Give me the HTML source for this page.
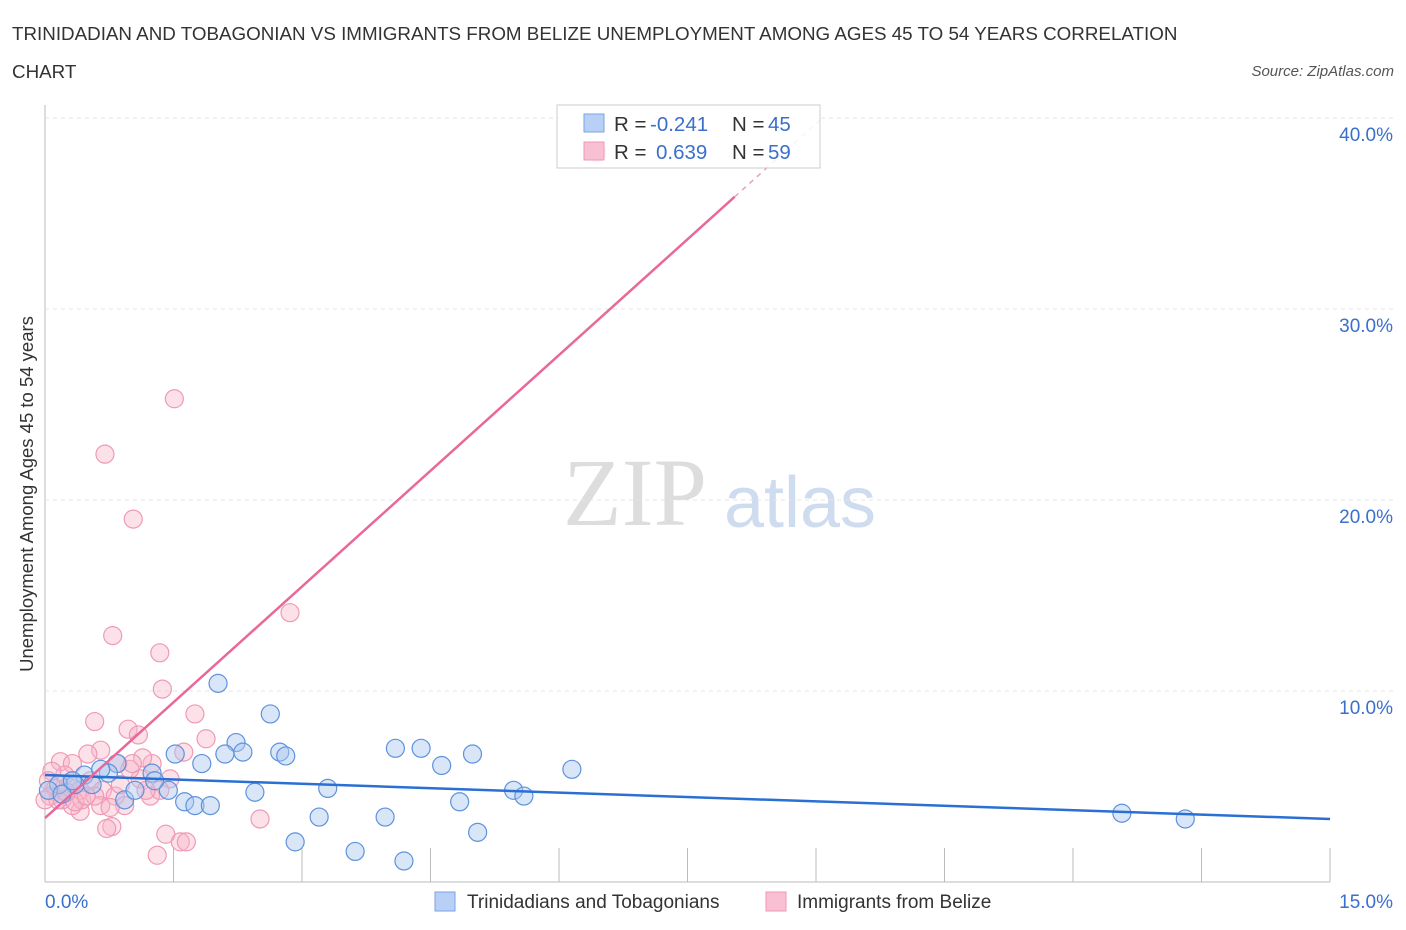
<!DOCTYPE html>
<html><head><meta charset="utf-8"><style>
body{margin:0;background:#fff;font-family:"Liberation Sans",sans-serif}
#c{position:absolute;left:0;top:0}
</style></head><body>
<svg id="c" width="1406" height="930" xmlns="http://www.w3.org/2000/svg">
<text x="12" y="40" font-size="18.8" fill="#333">TRINIDADIAN AND TOBAGONIAN VS IMMIGRANTS FROM BELIZE UNEMPLOYMENT AMONG AGES 45 TO 54 YEARS CORRELATION</text>
<text x="12" y="78" font-size="18.8" fill="#333">CHART</text>
<text x="1394" y="76" font-size="15" fill="#555" font-style="italic" text-anchor="end">Source: ZipAtlas.com</text>
<text x="33" y="494" font-size="18.5" fill="#333" text-anchor="middle" transform="rotate(-90 33 494)">Unemployment Among Ages 45 to 54 years</text>
<g><text x="635" y="525" font-size="96" fill="#ddd" font-family="Liberation Serif" text-anchor="middle">ZIP</text><text x="800" y="527" font-size="72" fill="#cfdcef" text-anchor="middle">atlas</text></g>
<g id="grid"></g><g id="pts"></g><g id="lines"></g>
<g>
<rect x="557" y="105" width="263" height="63" fill="#fff" fill-opacity="0.85" stroke="#ccc"/>
<rect x="584" y="114" width="20" height="18" fill="#b8d0f5" stroke="#7aa3e6"/>
<rect x="584" y="142" width="20" height="18" fill="#f8c0d2" stroke="#ee97b4"/>
<text x="614" y="131" font-size="20.5" fill="#333">R =</text><text x="650" y="131" font-size="20.5" fill="#3a6fcc">-0.241</text>
<text x="732" y="131" font-size="20.5" fill="#333">N =</text><text x="768" y="131" font-size="20.5" fill="#3a6fcc">45</text>
<text x="614" y="159" font-size="20.5" fill="#333">R =</text><text x="656" y="159" font-size="20.5" fill="#3a6fcc">0.639</text>
<text x="732" y="159" font-size="20.5" fill="#333">N =</text><text x="768" y="159" font-size="20.5" fill="#3a6fcc">59</text>
</g>
<g>
<rect x="435" y="892" width="20" height="19" fill="#b8d0f5" stroke="#7aa3e6"/>
<text x="467" y="908" font-size="19" fill="#333">Trinidadians and Tobagonians</text>
<rect x="766" y="892" width="20" height="19" fill="#f8c0d2" stroke="#ee97b4"/>
<text x="797" y="908" font-size="19" fill="#333">Immigrants from Belize</text>
</g>
</svg>
<script>
const yTicks=[10,20,30,40];
const xEnds=["0.0%","15.0%"];
const blueData=[[2.02,10.4],[2.63,8.8],[2.23,7.3],[2.1,6.7],[2.31,6.8],[2.74,6.8],[2.81,6.6],[1.52,6.7],[1.83,6.2],[4.09,7.0],[4.39,7.0],[4.99,6.7],[4.63,6.1],[6.15,5.9],[1.25,5.7],[0.84,6.2],[0.74,5.7],[0.46,5.6],[0.16,5.1],[0.35,5.1],[3.3,4.9],[2.45,4.7],[1.63,4.2],[1.75,4.0],[1.93,4.0],[0.93,4.3],[1.05,4.8],[1.44,4.8],[4.84,4.2],[5.47,4.8],[5.59,4.5],[3.2,3.4],[3.97,3.4],[5.05,2.6],[2.92,2.1],[3.62,1.6],[4.19,1.1],[12.57,3.6],[13.31,3.3],[0.04,4.8],[0.2,4.6],[0.55,5.1],[0.65,5.9],[1.28,5.3],[0.32,5.3]];
const pinkData=[[1.51,25.3],[0.7,22.4],[1.03,19.0],[2.86,14.1],[0.79,12.9],[1.34,12.0],[1.37,10.1],[1.75,8.8],[0.58,8.4],[0.97,8.0],[1.09,7.7],[1.88,7.5],[1.62,6.8],[0.65,6.9],[0.5,6.7],[0.18,6.3],[0.32,6.2],[0.85,6.2],[1.25,6.2],[1.14,6.5],[1.46,5.4],[1.11,5.4],[0.23,5.6],[0.08,5.8],[0.04,5.3],[0.12,4.9],[0.27,5.0],[0.41,4.8],[0.53,5.3],[0.67,4.8],[0.82,4.5],[0.93,4.0],[1.23,4.5],[1.34,4.8],[0.65,4.0],[0.41,3.7],[0.32,4.0],[0.43,4.3],[0.2,4.3],[0.78,2.9],[0.72,2.8],[1.41,2.5],[1.58,2.1],[1.65,2.1],[1.31,1.4],[2.51,3.3],[0.88,5.1],[0.99,5.9],[0.58,4.5],[0.06,4.5],[0.15,4.3],[0.0,4.3],[0.35,4.2],[0.25,4.7],[0.76,3.9],[1.02,6.2],[1.18,4.8],[6.44,38.2],[0.48,4.5]];
const blueFit=[5.6,3.3];
const pinkFit=[3.35,4.04];
const NS="http://www.w3.org/2000/svg";
const X=v=>45+v*85.67, Y=v=>882-v*19.1;
function mk(t,a,p){const e=document.createElementNS(NS,t);for(const k in a)e.setAttribute(k,a[k]);p.appendChild(e);return e;}
const grid=document.getElementById('grid');
mk('line',{x1:45,y1:105,x2:45,y2:882,stroke:'#bbb'},grid);
mk('line',{x1:45,y1:882,x2:1330,y2:882,stroke:'#bbb'},grid);
for(let i=1;i<=10;i++){const l=mk('line',{x1:45+i*128.5,y1:848,x2:45+i*128.5,y2:882,stroke:'#bbb'},grid);

}
yTicks.forEach(t=>{const l=mk('line',{x1:45,y1:Y(t),x2:1393,y2:Y(t),stroke:'#e4e4e4','stroke-dasharray':'4,4'},grid);


const tx=mk('text',{x:1393,y:Y(t)+23,'font-size':19,fill:'#3a6fcc','text-anchor':'end'},grid);tx.textContent=t.toFixed(1)+'%';

});
const t0=mk('text',{x:45,y:908,'font-size':19,fill:'#3a6fcc'},grid);t0.textContent=xEnds[0];


const t1=mk('text',{x:1393,y:908,'font-size':19,fill:'#3a6fcc','text-anchor':'end'},grid);t1.textContent=xEnds[1];


const pts=document.getElementById('pts');
pinkData.forEach(d=>{const c=mk('circle',{cx:X(d[0]),cy:Y(d[1]),r:9,fill:'rgba(248,180,200,0.4)',stroke:'#ee9ab6','stroke-width':1.2},pts);

});
blueData.forEach(d=>{const c=mk('circle',{cx:X(d[0]),cy:Y(d[1]),r:9,fill:'rgba(170,200,240,0.45)',stroke:'#5e92dc','stroke-width':1.2},pts);

});
const ln=document.getElementById('lines');
const bl=mk('line',{x1:X(0),y1:Y(blueFit[0]),x2:X(15),y2:Y(blueFit[1]),stroke:'#2a6fd4','stroke-width':2.5},ln);


const xe=8.05,xd=9.05;
const pl=mk('line',{x1:X(0),y1:Y(pinkFit[0]),x2:X(xe),y2:Y(pinkFit[0]+pinkFit[1]*xe),stroke:'#e8689a','stroke-width':2.5},ln);


const pd=mk('line',{x1:X(xe),y1:Y(pinkFit[0]+pinkFit[1]*xe),x2:X(xd),y2:Y(pinkFit[0]+pinkFit[1]*xd),stroke:'#e8a0bc','stroke-width':1.5,'stroke-dasharray':'5,5'},ln);


</script>
</body></html>
